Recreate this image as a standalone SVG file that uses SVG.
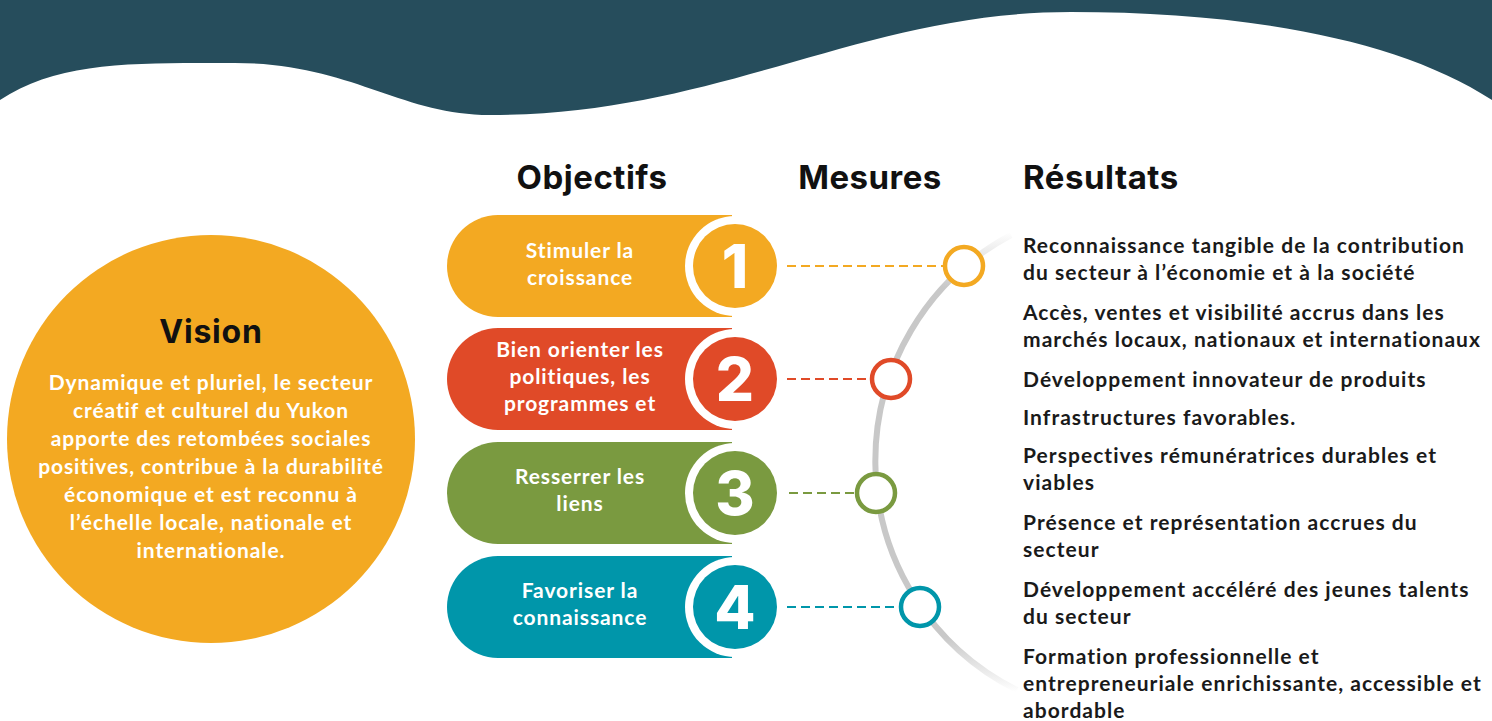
<svg xmlns="http://www.w3.org/2000/svg" width="1492" height="721" viewBox="0 0 1492 721">
<style>
.hdr{font-family:Inter,"Open Sans",sans-serif;font-weight:700;font-size:33px;letter-spacing:0.5px;fill:#111}
.pill{font-family:Lato,"Noto Sans",sans-serif;font-weight:700;font-size:21px;letter-spacing:0.9px;fill:#fff;text-anchor:middle}
.num{font-family:Inter,"Open Sans",sans-serif;font-weight:800;font-size:60px;fill:#fff;text-anchor:middle}
.res{font-family:Lato,"Noto Sans",sans-serif;font-weight:700;font-size:21px;letter-spacing:1.05px;fill:#1a1a1a}
.vis{font-family:Lato,"Noto Sans",sans-serif;font-weight:700;font-size:21px;letter-spacing:0.9px;fill:#fff;text-anchor:middle}
.dash{stroke-width:2;stroke-dasharray:9 5;fill:none}
.ring{fill:#fff;stroke-width:4.5}
</style>
<defs>
<linearGradient id="arcg" gradientUnits="userSpaceOnUse" x1="0" y1="232" x2="0" y2="692">
<stop offset="0" stop-color="#c8c8c8" stop-opacity="0"/>
<stop offset="0.12" stop-color="#c8c8c8" stop-opacity="1"/>
<stop offset="0.88" stop-color="#c8c8c8" stop-opacity="1"/>
<stop offset="1" stop-color="#c8c8c8" stop-opacity="0"/>
</linearGradient>
</defs>
<rect width="1492" height="721" fill="#fff"/>
<path id="wave" d="M0,0 H1492 V100 C1400,40 1250,12 1071,12 C860,12 720,115 490,115 C400,115 350,63 235,63 C140,63 60,60 0,100 Z" fill="#264d5c"/>

<g id="headers">
<text class="hdr" x="592" y="189" text-anchor="middle">Objectifs</text>
<text class="hdr" x="870" y="189" text-anchor="middle">Mesures</text>
<text class="hdr" x="1023" y="189">Résultats</text>
</g>

<g id="vision">
<circle cx="211" cy="439" r="204" fill="#f3a922"/>
<text x="211" y="343" text-anchor="middle" style="font-family:Inter,'Open Sans',sans-serif;font-weight:700;font-size:32px;letter-spacing:0.8px;fill:#111">Vision</text>
<text class="vis" x="211" y="390">Dynamique et pluriel, le secteur</text>
<text class="vis" x="211" y="418">créatif et culturel du Yukon</text>
<text class="vis" x="211" y="446">apporte des retombées sociales</text>
<text class="vis" x="211" y="474">positives, contribue à la durabilité</text>
<text class="vis" x="211" y="502">économique et est reconnu à</text>
<text class="vis" x="211" y="530">l’échelle locale, nationale et</text>
<text class="vis" x="211" y="558">internationale.</text>
</g>

<g id="arc">
<path d="M1011,235 A256,256 0 0 0 1017,690" fill="none" stroke="url(#arcg)" stroke-width="6"/>
</g>

<g id="connectors">
<line class="dash" x1="787" y1="266" x2="944" y2="266" stroke="#f3a922"/>
<line class="dash" x1="787" y1="379" x2="871" y2="379" stroke="#e04a28"/>
<line class="dash" x1="789" y1="493" x2="856" y2="493" stroke="#7a9a40"/>
<line class="dash" x1="787" y1="607" x2="900" y2="607" stroke="#0096aa"/>
</g>

<g id="obj1">
<path d="M498,215 H732 V317 H498 A51,51 0 0 1 498,215 Z" fill="#f3a922"/>
<circle cx="735" cy="266" r="50" fill="#fff"/>
<circle cx="735" cy="266" r="42" fill="#f3a922"/>
<text class="pill" x="580" y="258">Stimuler la</text>
<text class="pill" x="580" y="285">croissance</text>
<text class="num" x="735" y="288">1</text>
</g>
<g id="obj2">
<path d="M498,328 H732 V430 H498 A51,51 0 0 1 498,328 Z" fill="#e04a28"/>
<circle cx="735" cy="379" r="50" fill="#fff"/>
<circle cx="735" cy="379" r="42" fill="#e04a28"/>
<text class="pill" x="580" y="357">Bien orienter les</text>
<text class="pill" x="580" y="384">politiques, les</text>
<text class="pill" x="580" y="411">programmes et</text>
<text class="num" x="735" y="401">2</text>
</g>
<g id="obj3">
<path d="M498,442 H732 V544 H498 A51,51 0 0 1 498,442 Z" fill="#7a9a40"/>
<circle cx="735" cy="493" r="50" fill="#fff"/>
<circle cx="735" cy="493" r="42" fill="#7a9a40"/>
<text class="pill" x="580" y="484">Resserrer les</text>
<text class="pill" x="580" y="511">liens</text>
<text class="num" x="735" y="515">3</text>
</g>
<g id="obj4">
<path d="M498,556 H732 V658 H498 A51,51 0 0 1 498,556 Z" fill="#0096aa"/>
<circle cx="735" cy="607" r="50" fill="#fff"/>
<circle cx="735" cy="607" r="42" fill="#0096aa"/>
<text class="pill" x="580" y="598">Favoriser la</text>
<text class="pill" x="580" y="625">connaissance</text>
<text class="num" x="735" y="629">4</text>
</g>

<g id="measures">
<circle class="ring" cx="964" cy="266" r="19" stroke="#f3a922"/>
<circle class="ring" cx="891" cy="379" r="19" stroke="#e04a28"/>
<circle class="ring" cx="876" cy="493" r="19" stroke="#7a9a40"/>
<circle class="ring" cx="920" cy="607" r="19" stroke="#0096aa"/>
</g>

<g id="results">
<text class="res" x="1023" y="253">Reconnaissance tangible de la contribution</text>
<text class="res" x="1023" y="280">du secteur à l’économie et à la société</text>
<text class="res" x="1023" y="320">Accès, ventes et visibilité accrus dans les</text>
<text class="res" x="1023" y="347">marchés locaux, nationaux et internationaux</text>
<text class="res" x="1023" y="387">Développement innovateur de produits</text>
<text class="res" x="1023" y="425">Infrastructures favorables.</text>
<text class="res" x="1023" y="463">Perspectives rémunératrices durables et</text>
<text class="res" x="1023" y="490">viables</text>
<text class="res" x="1023" y="530">Présence et représentation accrues du</text>
<text class="res" x="1023" y="557">secteur</text>
<text class="res" x="1023" y="597">Développement accéléré des jeunes talents</text>
<text class="res" x="1023" y="624">du secteur</text>
<text class="res" x="1023" y="664">Formation professionnelle et</text>
<text class="res" x="1023" y="691">entrepreneuriale enrichissante, accessible et</text>
<text class="res" x="1023" y="718">abordable</text>
</g>
</svg>
